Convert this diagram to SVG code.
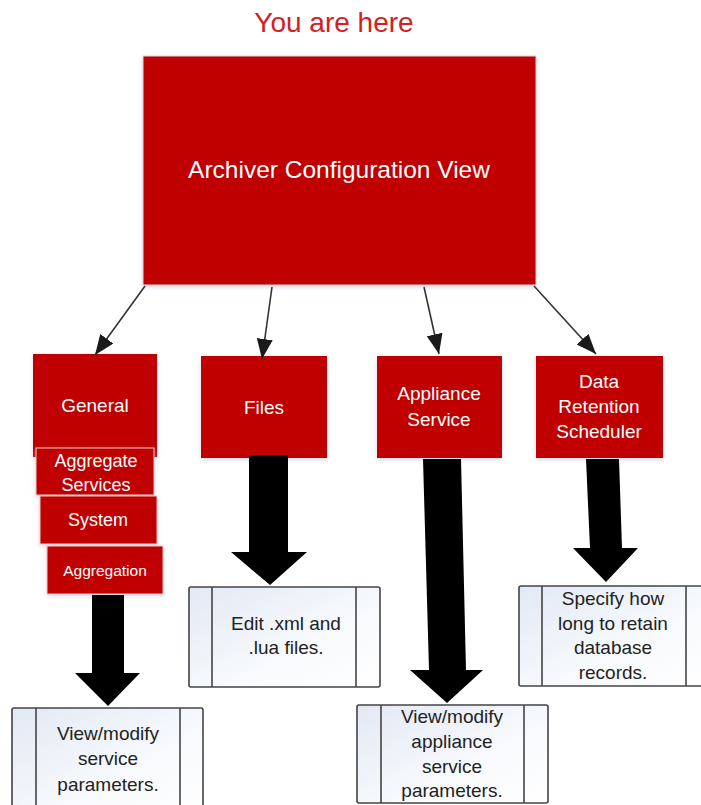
<svg xmlns="http://www.w3.org/2000/svg" width="701" height="805" viewBox="0 0 701 805">
<defs>
<linearGradient id="pgrad" x1="0" y1="0" x2="1" y2="1">
<stop offset="0" stop-color="#e2e9f4"/>
<stop offset="0.6" stop-color="#f8fafd"/>
<stop offset="1" stop-color="#ffffff"/>
</linearGradient>
<filter id="glow" x="-10%" y="-10%" width="120%" height="125%">
<feDropShadow dx="0" dy="2" stdDeviation="2" flood-color="#9fb6d6" flood-opacity="0.45"/>
</filter>
<marker id="ah" markerUnits="userSpaceOnUse" markerWidth="22" markerHeight="18" refX="20" refY="8" orient="auto">
<path d="M0,0 L20,8 L0,16 Z" fill="#1a1a1a"/>
</marker>
</defs>
<style>
.red{fill:#c00000;filter:url(#glow)}
.sub{fill:#c00000;stroke:#f3c9c9;stroke-width:1;filter:url(#glow)}
.wt{fill:#ffffff;font-family:"Liberation Sans",Arial,sans-serif;text-anchor:middle}
.pt{fill:#222;font-family:"Liberation Sans",Arial,sans-serif;font-size:19px;text-anchor:middle}
.pbox{fill:url(#pgrad);stroke:#444;stroke-width:1.6}
.pline{stroke:#444;stroke-width:1.6}
.con{stroke:#333;stroke-width:1.6;fill:none;marker-end:url(#ah)}
.blk{fill:#000}
</style>
<text x="334" y="32" fill="#d42020" font-family="'Liberation Sans',Arial,sans-serif" font-size="28" text-anchor="middle">You are here</text>

<g id="main">
<rect class="red" x="143" y="56" width="393" height="229" stroke="#d9d9de" stroke-width="1"/>
<text class="wt" x="339" y="178" font-size="24.5">Archiver Configuration View</text>
</g>

<g id="general">
<rect class="red" x="33" y="354" width="124" height="103"/>
<text class="wt" x="95" y="412" font-size="19">General</text>
</g>
<g id="aggregate-services">
<rect class="sub" x="36" y="448" width="118" height="47"/>
<text class="wt" x="96" y="467" font-size="18">Aggregate</text>
<text class="wt" x="96" y="491" font-size="18">Services</text>
</g>
<g id="system">
<rect class="sub" x="40" y="496" width="117" height="48"/>
<text class="wt" x="98" y="526" font-size="18">System</text>
</g>
<g id="aggregation">
<rect class="sub" x="47" y="546" width="116" height="48"/>
<text class="wt" x="105" y="576" font-size="15.5">Aggregation</text>
</g>

<g id="files">
<rect class="red" x="201" y="356" width="126" height="102"/>
<text class="wt" x="264" y="414" font-size="19">Files</text>
</g>

<g id="appliance-service">
<rect class="red" x="377" y="356" width="125" height="102"/>
<text class="wt" x="439" y="400" font-size="19">Appliance</text>
<text class="wt" x="439" y="426" font-size="19">Service</text>
</g>

<g id="data-retention">
<rect class="red" x="536" y="356" width="127" height="102"/>
<text class="wt" x="599" y="388" font-size="19">Data</text>
<text class="wt" x="599" y="413" font-size="19">Retention</text>
<text class="wt" x="599" y="438" font-size="19">Scheduler</text>
</g>

<g id="desc-general">
<rect class="pbox" x="12" y="708" width="191" height="110" rx="2"/>
<line class="pline" x1="36" y1="708" x2="36" y2="805"/>
<line class="pline" x1="180" y1="708" x2="180" y2="805"/>
<text class="pt" x="108" y="740">View/modify</text>
<text class="pt" x="108" y="765">service</text>
<text class="pt" x="108" y="791">parameters.</text>
</g>

<g id="desc-files">
<rect class="pbox" x="189" y="587" width="191" height="100" rx="2"/>
<line class="pline" x1="212" y1="587" x2="212" y2="687"/>
<line class="pline" x1="356" y1="587" x2="356" y2="687"/>
<text class="pt" x="286" y="630">Edit .xml and</text>
<text class="pt" x="286" y="654">.lua files.</text>
</g>

<g id="desc-appliance">
<rect class="pbox" x="357" y="705" width="191" height="98" rx="2"/>
<line class="pline" x1="381" y1="705" x2="381" y2="803"/>
<line class="pline" x1="524" y1="705" x2="524" y2="803"/>
<text class="pt" x="452" y="723">View/modify</text>
<text class="pt" x="452" y="748">appliance</text>
<text class="pt" x="452" y="773">service</text>
<text class="pt" x="452" y="797">parameters.</text>
</g>

<g id="desc-retention">
<rect class="pbox" x="519" y="586" width="192" height="100" rx="2"/>
<line class="pline" x1="542" y1="586" x2="542" y2="686"/>
<line class="pline" x1="686" y1="586" x2="686" y2="686"/>
<text class="pt" x="613" y="605">Specify how</text>
<text class="pt" x="613" y="630">long to retain</text>
<text class="pt" x="613" y="654">database</text>
<text class="pt" x="613" y="679">records.</text>
</g>

<g id="connectors">
<line class="con" x1="145" y1="286" x2="95" y2="355"/>
<line class="con" x1="272" y1="287" x2="262" y2="359"/>
<line class="con" x1="424" y1="287" x2="439" y2="354"/>
<line class="con" x1="534" y1="286" x2="596" y2="354"/>
<polygon class="blk" points="92,595 124,595 124,673 140,673 108,706 75,673 92,673"/>
<polygon class="blk" points="249,455 288,455 288,552 307,552 270,585 231,552 249,552"/>
<polygon class="blk" points="423,459 461,459 466,670 483,670 447,703 410,670 429,670"/>
<polygon class="blk" points="586,459 619,459 622,548 638,548 606,582 573,548 590,548"/>
</g>
</svg>
